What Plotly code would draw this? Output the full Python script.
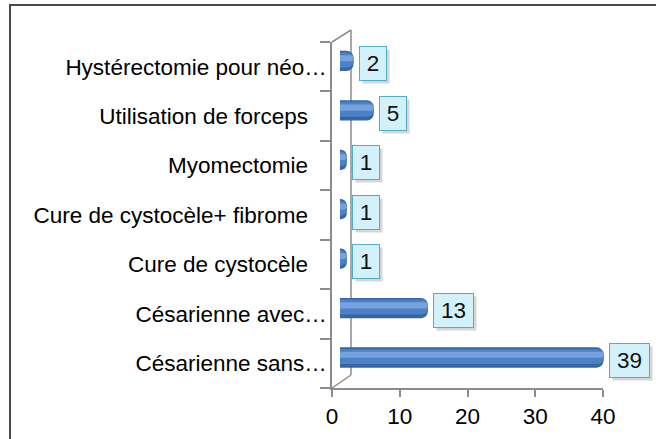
import plotly.graph_objects as go

# ---- data (top to bottom as displayed) ----
categories = [
    "Hystérectomie pour néo…",
    "Utilisation de forceps",
    "Myomectomie",
    "Cure de cystocèle+ fibrome",
    "Cure de cystocèle",
    "Césarienne avec…",
    "Césarienne sans…",
]
values = [2, 5, 1, 1, 1, 13, 39]
x_ticks = [0, 10, 20, 30, 40]

W, H = 656, 439
FONT = "Liberation Sans"
FS = 22.5


def fx(p):
    return p / W


def fy(p):
    return 1 - p / H


# pixel geometry of the front plane
X0, X40 = 332, 603
Y_TOP, Y_BOT = 42, 388
# depth plane used for the 3D bars
BAR_ZERO, BAR_SLOPE = 340, 6.76

ticktext = [c if c.endswith("…") else c + "\u00a0\u00a0\u00a0" for c in categories]

fig = go.Figure()

# invisible trace registering the front (axis) plane subplot
fig.add_trace(go.Scatter(
    x=values, y=categories, xaxis="x", yaxis="y", mode="markers",
    marker=dict(opacity=0), hoverinfo="skip", showlegend=False,
))

bw = 0.41
center_shift = -0.117  # bars sit slightly higher (3D depth)

layers = [
    (bw, "#3665A6", 7, 0.0),
    (bw * 0.74, "#4D81C6", 6, -0.02),
    (bw * 0.30, "#76A2DD", 3, -0.055),
]
for i, (w, col, cr, dy) in enumerate(layers):
    shift = center_shift + dy
    fig.add_trace(go.Bar(
        x=values, y=categories, orientation="h",
        xaxis="x2", yaxis="y",
        width=w, offset=shift - w / 2,
        marker=dict(color=col, line=dict(width=0), cornerradius=cr),
        hoverinfo="skip" if i else None,
        showlegend=False,
    ))

# boxed data labels
annotations = []
for c, v in zip(categories, values):
    wdt = 20 + 13 * (len(str(v)) - 1)
    common = dict(x=v, y=c, xref="x2", yref="y", xanchor="left",
                  yanchor="middle", showarrow=False, width=wdt, height=27,
                  borderpad=3, borderwidth=1)
    annotations.append(dict(common, xshift=8, yshift=0, text="\u00a0",
                            font=dict(family=FONT, size=FS),
                            bgcolor="rgba(0,0,0,0.16)", bordercolor="rgba(0,0,0,0)"))
    annotations.append(dict(common, xshift=5, yshift=3, text=str(v),
                            font=dict(family=FONT, size=FS, color="#111111"),
                            bgcolor="#D3F1FB", bordercolor="#4FAECB"))

axis_col = "#8C8C8C"
shapes = [
    # back wall & depth lines
    dict(type="line", xref="paper", yref="paper", x0=fx(351), x1=fx(351),
         y0=fy(30), y1=fy(375), line=dict(color=axis_col, width=1.5), layer="below"),
    dict(type="line", xref="paper", yref="paper", x0=fx(X0), x1=fx(351),
         y0=fy(Y_TOP), y1=fy(30), line=dict(color=axis_col, width=1.5), layer="below"),
    dict(type="line", xref="paper", yref="paper", x0=fx(X0), x1=fx(351),
         y0=fy(Y_BOT), y1=fy(375), line=dict(color=axis_col, width=1.5), layer="below"),
    # outer frame
    dict(type="rect", xref="paper", yref="paper", x0=fx(10), x1=fx(700),
         y0=fy(520), y1=fy(5), line=dict(color="#4A4A4A", width=2)),
]

fig.update_layout(
    width=W, height=H,
    margin=dict(l=0, r=0, t=0, b=0, autoexpand=False),
    paper_bgcolor="white", plot_bgcolor="rgba(0,0,0,0)",
    barmode="overlay",
    font=dict(family=FONT, size=FS, color="#000000"),
    xaxis=dict(domain=[fx(X0), fx(X40)], range=[0, 40], tickvals=x_ticks,
               showline=True, linecolor=axis_col, linewidth=1.5,
               ticks="outside", ticklen=7, tickcolor=axis_col, tickwidth=1.5,
               showgrid=False, zeroline=False, anchor="y",
               tickfont=dict(family=FONT, size=FS, color="#000000")),
    xaxis2=dict(domain=[0, 1], anchor="y", visible=False,
                range=[-BAR_ZERO / BAR_SLOPE, (W - BAR_ZERO) / BAR_SLOPE]),
    yaxis=dict(domain=[fy(Y_BOT), fy(Y_TOP)], type="category",
               categoryorder="array", categoryarray=categories,
               range=[6.5, -0.5], anchor="x",
               tickmode="array", tickvals=categories, ticktext=ticktext,
               showline=True, linecolor=axis_col, linewidth=1.5,
               ticks="outside", tickson="boundaries", ticklen=10,
               tickcolor=axis_col, tickwidth=1.5, showgrid=False,
               ticklabelstandoff=-1,
               tickfont=dict(family=FONT, size=FS, color="#000000")),
    annotations=annotations,
    shapes=shapes,
)

fig.write_html("out.html", config={"displayModeBar": False},
               post_script="document.body.style.margin='0';document.body.style.overflow='hidden';")
